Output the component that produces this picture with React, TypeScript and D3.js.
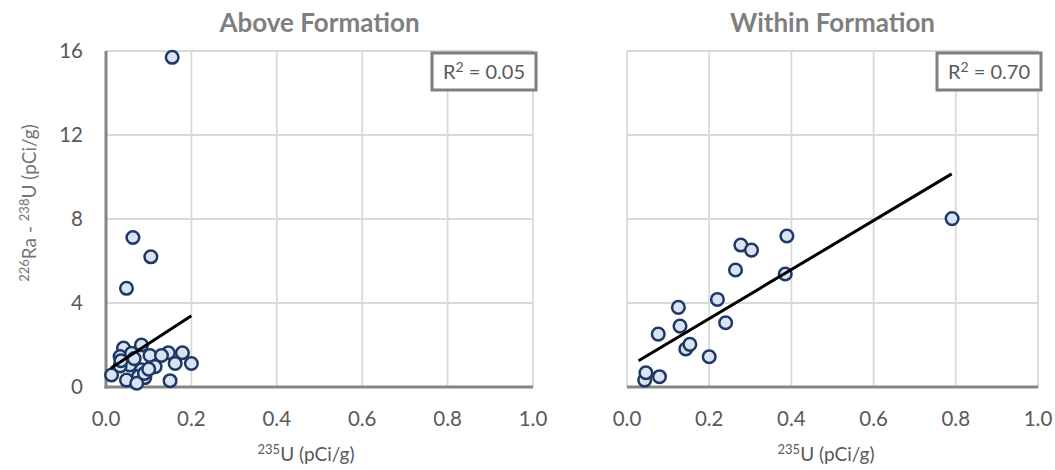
import React from "react";
import * as d3 from "d3";

// ---- data ----
const aboveX = [0.155, 0.063, 0.105, 0.048, 0.041, 0.083, 0.033, 0.103, 0.146, 0.179, 0.2, 0.162, 0.115, 0.056, 0.013, 0.083, 0.076, 0.048, 0.091, 0.072, 0.15, 0.033, 0.13, 0.06, 0.09, 0.035, 0.066, 0.1];
const aboveY = [15.7, 7.12, 6.2, 4.7, 1.85, 2.0, 1.45, 1.5, 1.63, 1.63, 1.12, 1.12, 0.97, 1.05, 0.57, 0.82, 0.5, 0.33, 0.45, 0.18, 0.3, 1.0, 1.5, 1.6, 0.65, 1.25, 1.35, 0.85];
const withinX = [0.043, 0.046, 0.079, 0.076, 0.125, 0.129, 0.143, 0.153, 0.2, 0.22, 0.24, 0.264, 0.277, 0.303, 0.389, 0.385, 0.791];
const withinY = [0.33, 0.68, 0.49, 2.52, 3.79, 2.9, 1.81, 2.03, 1.44, 4.17, 3.06, 5.57, 6.76, 6.52, 7.19, 5.38, 8.02];
// trendline: [slope, intercept], x range
const aboveTrend = [13.2, 0.75];
const aboveTrendRange = [0.011, 0.2];
const withinTrend = [11.68, 0.92];
const withinTrendRange = [0.028, 0.79];
const xTicks = [0, 0.2, 0.4, 0.6, 0.8, 1.0];
const yTicks = [0, 4, 8, 12, 16];
const titles = ["Above Formation", "Within Formation"];
const r2Values = ["0.05", "0.70"];

const FONT = "Lato, 'Open Sans', sans-serif";
const GRID = "#d9d9d9";
const AXIS = "#858585";
const TEXT = "#595959";

type PanelProps = {
  x0: number; x1: number; xs: number[]; ys: number[]; trend: number[]; range: number[];
  title: string; r2: string; showY: boolean; xLabelX: number;
};

const Y0 = 51, Y1 = 387;

function Panel({ x0, x1, xs, ys, trend, range, title, r2, showY, xLabelX }: PanelProps) {
  const x = d3.scaleLinear().domain([0, 1]).range([x0, x1]);
  const y = d3.scaleLinear().domain([0, 16]).range([Y1, Y0]);
  const line = d3.line<number>().x(d => x(d)).y(d => y(trend[0] * d + trend[1]));
  const cx = (x0 + x1) / 2;
  const boxW = 104, boxH = 37;
  return (
    <g>
      {yTicks.filter(t => t > 0).map(t => (
        <line key={"h" + t} x1={x0} x2={x1} y1={y(t)} y2={y(t)} stroke={GRID} strokeWidth={1.8} />
      ))}
      {xTicks.filter(t => (showY ? t > 0 : true)).map(t => (
        <line key={"v" + t} x1={x(t)} x2={x(t)} y1={Y0} y2={Y1} stroke={GRID} strokeWidth={1.8} />
      ))}
      {showY && <line x1={x0} x2={x0} y1={Y0} y2={Y1 + 1.5} stroke={AXIS} strokeWidth={3} />}
      <line x1={x0 - (showY ? 1.5 : 0)} x2={x1} y1={Y1} y2={Y1} stroke={AXIS} strokeWidth={3} />
      {xTicks.map(t => (
        <text key={"xt" + t} x={x(t)} y={426} textAnchor="middle" fontSize={20.5} fill={TEXT} fontFamily={FONT}>
          {t.toFixed(1)}
        </text>
      ))}
      {showY && yTicks.map(t => (
        <text key={"yt" + t} x={83} y={y(t) + 7} textAnchor="end" fontSize={20.5} fill={TEXT} fontFamily={FONT}>
          {t}
        </text>
      ))}
      <text x={cx} y={32} textAnchor="middle" fontSize={26} fontWeight="bold" fill="#7f7f7f" fontFamily={FONT}>
        {title}
      </text>
      <text x={xLabelX} y={461} textAnchor="middle" fontSize={19} fill={TEXT} fontFamily={FONT}>
        <tspan fontSize={13} dy={-7}>235</tspan>
        <tspan dy={7}>U (pCi/g)</tspan>
      </text>
      {xs.map((v, i) => (
        <circle key={i} cx={x(v)} cy={y(ys[i])} r={6.3} fill="#dae3f3" stroke="#1f3864" strokeWidth={2.5} />
      ))}
      <path d={line(range) || ""} stroke="#000" strokeWidth={3} fill="none" />
      <rect x={x1 + 3 - boxW} y={Y0 + 2} width={boxW} height={boxH} fill="#fff" stroke="#7f7f7f" strokeWidth={3} />
      <text x={x1 + 3 - boxW / 2} y={Y0 + 2 + boxH / 2 + 7} textAnchor="middle" fontSize={20} fill={TEXT} fontFamily={FONT}>
        <tspan>R</tspan>
        <tspan fontSize={14} dy={-7}>2</tspan>
        <tspan dy={7}>{" = " + r2}</tspan>
      </text>
    </g>
  );
}

export default function App() {
  return (
    <svg width={1055} height={470} style={{ position: "absolute", left: 0, top: 0, background: "#fff" }}>
      <rect width={1055} height={470} fill="#fff" />
      <Panel x0={106} x1={533} xs={aboveX} ys={aboveY} trend={aboveTrend} range={aboveTrendRange} title={titles[0]} r2={r2Values[0]} showY={true} xLabelX={306} />
      <Panel x0={627} x1={1038} xs={withinX} ys={withinY} trend={withinTrend} range={withinTrendRange} title={titles[1]} r2={r2Values[1]} showY={false} xLabelX={826} />
      <text transform="translate(36,203) rotate(-90)" textAnchor="middle" fontSize={19} fill="#757575" fontFamily={FONT}>
        <tspan fontSize={13} dy={-7}>226</tspan>
        <tspan dy={7}>Ra - </tspan>
        <tspan fontSize={13} dy={-7}>238</tspan>
        <tspan dy={7}>U (pCi/g)</tspan>
      </text>
    </svg>
  );
}
